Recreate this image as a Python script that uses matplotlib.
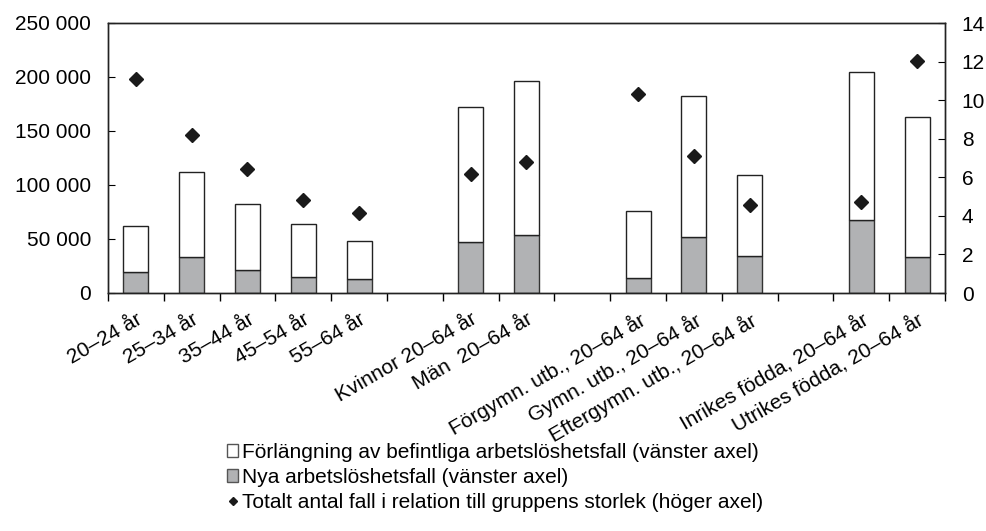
import numpy as np
import matplotlib.pyplot as plt
from matplotlib.patches import Patch
from matplotlib.lines import Line2D
from matplotlib.ticker import FuncFormatter, MultipleLocator

plt.rcParams['font.family'] = ['Liberation Sans', 'DejaVu Sans']

# Data (empty strings are spacer slots between groups)
labels = ["20–24 år", "25–34 år", "35–44 år", "45–54 år", "55–64 år", "",
          "Kvinnor 20–64 år", "Män  20–64 år", "",
          "Förgymn. utb., 20–64 år", "Gymn. utb., 20–64 år", "Eftergymn. utb., 20–64 år", "",
          "Inrikes födda, 20–64 år", "Utrikes födda, 20–64 år"]
total = [62300, 111700, 82100, 63900, 48400, np.nan,
         171900, 196000, np.nan,
         76200, 182700, 109300, np.nan,
         204900, 163300]
nya = [19700, 33000, 21000, 14800, 12700, np.nan,
       46900, 54000, np.nan,
       14200, 52100, 34600, np.nan,
       67900, 33300]
ratio = [11.1, 8.2, 6.45, 4.8, 4.15, np.nan,
         6.15, 6.77, np.nan,
         10.3, 7.12, 4.56, np.nan,
         4.7, 12.05]

total = np.array(total)
nya = np.array(nya)
forl = total - nya
x = np.arange(len(labels))

fig = plt.figure(figsize=(9.87, 5.31), dpi=100)
ax = fig.add_axes([108/987, 1-293/531, (945-108)/987, (293-23)/531])
ax2 = ax.twinx()

gray = '#b1b2b4'
w = 0.45
ax.bar(x, nya, w, color=gray, edgecolor='#333333', linewidth=1.0, zorder=2)
ax.bar(x, forl, w, bottom=nya, color='white', edgecolor='#222222', linewidth=1.0, zorder=2)
ax2.plot(x, ratio, linestyle='none', marker='D', ms=7.5, color='#1a1a1a')

fs = 15
ax.set_xlim(-0.5, len(labels) - 0.5)
ax.set_ylim(0, 250000)
ax2.set_ylim(0, 14)
ax.yaxis.set_major_locator(MultipleLocator(50000))
ax.yaxis.set_major_formatter(FuncFormatter(lambda v, p: f"{int(v):,}".replace(",", " ")))
ax2.yaxis.set_major_locator(MultipleLocator(2))

ax.set_xticks(x)
ax.set_xticklabels(labels, rotation=30, ha='right', rotation_mode='anchor', fontsize=fs)
ax.tick_params(axis='x', which='major', length=0, pad=12)
ax.set_xticks(np.arange(-0.5, len(labels), 1.0), minor=True)
ax.tick_params(axis='x', which='minor', length=6, direction='out', width=1)
ax.tick_params(axis='y', direction='in', length=5, labelsize=fs, pad=12)
ax2.tick_params(axis='y', direction='in', length=5, labelsize=fs, pad=12)

for a in (ax, ax2):
    for s in a.spines.values():
        s.set_color('#222222')
        s.set_linewidth(1.0)

handles = [Patch(facecolor='white', edgecolor='#555555', linewidth=1.0),
           Patch(facecolor=gray, edgecolor='#555555', linewidth=1.0),
           Line2D([], [], linestyle='none', marker='D', ms=4, color='#1a1a1a')]
leg_labels = ["Förlängning av befintliga arbetslöshetsfall (vänster axel)",
              "Nya arbetslöshetsfall (vänster axel)",
              "Totalt antal fall i relation till gruppens storlek (höger axel)"]
fig.legend(handles, leg_labels, loc='upper left', bbox_to_anchor=(227/987, 1-443/531),
           frameon=False, fontsize=fs, handlelength=0.55, handleheight=0.55,
           handletextpad=0.15, labelspacing=0.28, borderpad=0, borderaxespad=0)

fig.savefig('out.png', dpi=100)
